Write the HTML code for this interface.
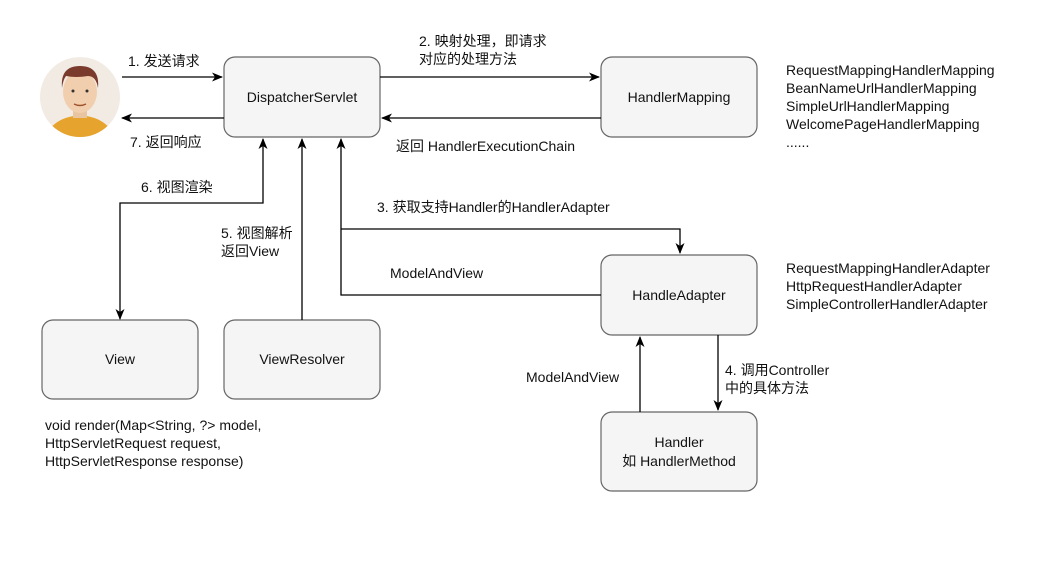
<!DOCTYPE html>
<html><head><meta charset="utf-8"><style>
body{margin:0;background:#fff;}
svg text{font-family:"Liberation Sans","Noto Sans CJK SC",sans-serif;font-size:14px;fill:#111;}
</style></head><body>
<svg width="1051" height="561" xmlns="http://www.w3.org/2000/svg">
<defs>
<marker id="a" markerWidth="12" markerHeight="12" refX="10" refY="6" orient="auto" markerUnits="userSpaceOnUse"><path d="M0,1.5 L11,6 L0,10.5 L3,6 z" fill="#000"/></marker>
<marker id="b" markerWidth="12" markerHeight="12" refX="1" refY="6" orient="auto" markerUnits="userSpaceOnUse"><path d="M11,1.5 L0,6 L11,10.5 L8,6 z" fill="#000"/></marker>
</defs>
<g fill="#f5f5f5" stroke="#666" stroke-width="1.2">
<rect x="224" y="57" width="156" height="80" rx="11"/>
<rect x="601" y="57" width="156" height="80" rx="11"/>
<rect x="601" y="255" width="156" height="80" rx="11"/>
<rect x="601" y="412" width="156" height="79" rx="11"/>
<rect x="42" y="320" width="156" height="79" rx="11"/>
<rect x="224" y="320" width="156" height="79" rx="11"/>
</g>
<g text-anchor="middle">
<text x="302" y="102">DispatcherServlet</text>
<text x="679" y="102">HandlerMapping</text>
<text x="679" y="300">HandleAdapter</text>
<text x="679" y="447">Handler</text>
<text x="679" y="466">如 HandlerMethod</text>
<text x="120" y="364">View</text>
<text x="302" y="364">ViewResolver</text>
</g>
<g stroke="#000" stroke-width="1.3" fill="none" marker-end="url(#a)">
<path d="M122 77 H222"/>
<path d="M224 118 H122"/>
<path d="M380 77 H599"/>
<path d="M601 118 H382"/>
<path d="M120 319 V203 H263 V139" marker-start="url(#b)"/>
<path d="M302 320 V139"/>
<path d="M601 295 H341 V139"/>
<path d="M341 229 H680 V253"/>
<path d="M640 412 V337"/>
<path d="M718 335 V410"/>
</g>
<text x="128" y="66">1. 发送请求</text>
<text x="130" y="147">7. 返回响应</text>
<text x="419" y="46">2. 映射处理，即请求</text>
<text x="419" y="64">对应的处理方法</text>
<text x="396" y="151">返回 HandlerExecutionChain</text>
<text x="141" y="192">6. 视图渲染</text>
<text x="221" y="238">5. 视图解析</text>
<text x="221" y="256">返回View</text>
<text x="377" y="212">3. 获取支持Handler的HandlerAdapter</text>
<text x="390" y="278">ModelAndView</text>
<text x="526" y="382">ModelAndView</text>
<text x="725" y="375">4. 调用Controller</text>
<text x="725" y="393">中的具体方法</text>
<text x="786" y="75">RequestMappingHandlerMapping</text>
<text x="786" y="93">BeanNameUrlHandlerMapping</text>
<text x="786" y="111">SimpleUrlHandlerMapping</text>
<text x="786" y="129">WelcomePageHandlerMapping</text>
<text x="786" y="147">......</text>
<text x="786" y="273">RequestMappingHandlerAdapter</text>
<text x="786" y="291">HttpRequestHandlerAdapter</text>
<text x="786" y="309">SimpleControllerHandlerAdapter</text>
<text x="45" y="430">void render(Map&lt;String, ?&gt; model,</text>
<text x="45" y="448">HttpServletRequest request,</text>
<text x="45" y="466">HttpServletResponse response)</text>
<clipPath id="c"><circle cx="80" cy="97" r="40"/></clipPath>
<circle cx="80" cy="97" r="40" fill="#f2ebe4"/>
<g clip-path="url(#c)">
<path d="M45 140 Q50 118 80 115 Q110 118 115 140 Z" fill="#e6a32e"/>
<rect x="73" y="104" width="14" height="14" fill="#e9c4a0"/>
<ellipse cx="80" cy="92" rx="17" ry="21" fill="#f1cfae"/>
<path d="M62 88 Q60 66 80 66 Q100 66 98 88 Q96 76 88 76 Q76 78 66 76 Q63 80 62 88Z" fill="#7a3a2c"/>
<circle cx="73" cy="91" r="1.5" fill="#333"/><circle cx="87" cy="91" r="1.5" fill="#333"/>
<path d="M74 104 Q80 107 86 104" stroke="#a0522d" stroke-width="1.5" fill="none"/>
</g>
</svg>
</body></html>
